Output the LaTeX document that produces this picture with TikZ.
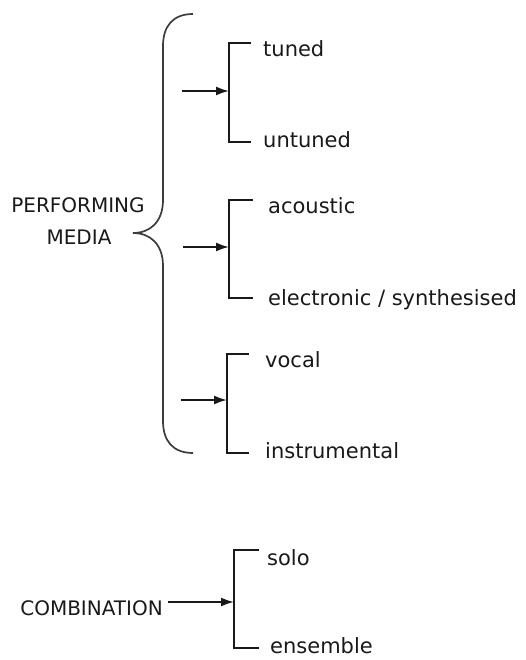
\documentclass[tikz,border=0pt]{standalone}
\usepackage{fontspec}
\setmainfont{DejaVu Sans}
\usepackage{tikz}
\usetikzlibrary{positioning, arrows.meta, calc}
\definecolor{ink}{RGB}{25, 25, 25}

\begin{document}
\begin{tikzpicture}[x=1pt, y=-1pt, font=\fontsize{20}{24}\selectfont, >={Latex[length=13pt,width=9pt]},
      cat/.style={anchor=base, inner sep=0pt, text=ink},
      item/.style={anchor=base west, inner sep=0pt, text=ink, font=\fontsize{21}{24}\selectfont},
      fork/.style={draw=ink, line width=1.9pt},
      feed/.style={draw=ink, line width=1.9pt, ->},
      brace/.style={draw=ink!85, line width=1.7pt}]
    \useasboundingbox (0,0) rectangle (526,660);
    % category labels
    \node[cat] (perf)  at (78,212) {PERFORMING};
    \node[cat] (media) at (79,244) {MEDIA};
    \node[cat, anchor=base east] (comb) at (163,615) {COMBINATION};
    % the brace
    \draw[brace] (193,14) .. controls (173,14) and (163,26) .. (163,46) -- (163,200)
      .. controls (163,222) and (150,233) .. (133,233)
      .. controls (150,233) and (163,244) .. (163,266) -- (163,421)
      .. controls (163,441) and (173,453) .. (193,453);
    % forks
    \coordinate (j1) at (229,91);  \coordinate (t1) at (251,43);  \coordinate (b1) at (251,142);
    \coordinate (j2) at (229,247); \coordinate (t2) at (253,200); \coordinate (b2) at (253,298);
    \coordinate (j3) at (227,400); \coordinate (t3) at (249,354); \coordinate (b3) at (249,453);
    \coordinate (j4) at (234,602); \coordinate (t4) at (259,550); \coordinate (b4) at (259,648);
    \coordinate (s1) at (182,91);  \coordinate (s2) at (183,247); \coordinate (s3) at (181,400);
    \node[item] (tuned)    at (263,57)  {tuned};
    \node[item] (untuned)  at (263,148) {untuned};
    \node[item] (acoustic) at (268,213) {acoustic};
    \node[item] (electro)  at (268,305) {electronic / synthesised};
    \node[item] (vocal)    at (265,367) {vocal};
    \node[item] (instr)    at (265,458) {instrumental};
    \node[item] (solo)     at (267,565) {solo};
    \node[item] (ensemble) at (270,653) {ensemble};
    \draw[fork] (t1) -| (j1) |- (b1);
    \draw[fork] (t2) -| (j2) |- (b2);
    \draw[fork] (t3) -| (j3) |- (b3);
    \draw[fork] (t4) -| (j4) |- (b4);
    \draw[feed] (s1) -- (j1);
    \draw[feed] (s2) -- (j2);
    \draw[feed] (s3) -- (j3);
    \draw[feed] ([xshift=5pt]comb.east |- j4) -- (j4);
  \end{tikzpicture}
\end{document}
